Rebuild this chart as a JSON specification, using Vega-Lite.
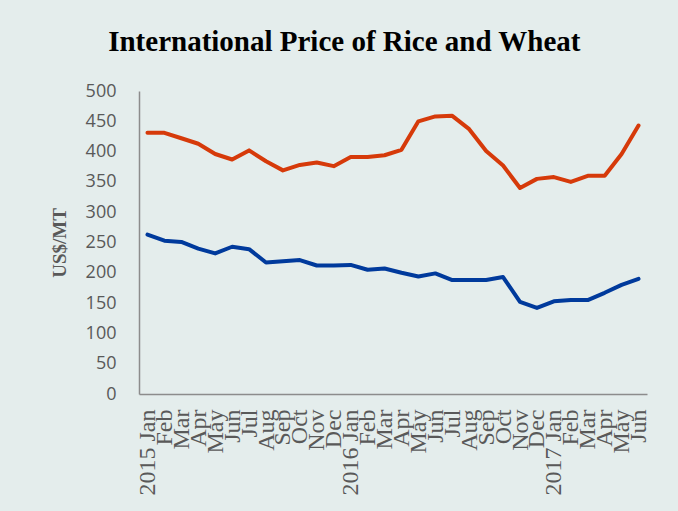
{
  "$schema": "https://vega.github.io/schema/vega-lite/v6.json",
  "width": 508,
  "height": 303,
  "autosize": {"type": "none"},
  "padding": {"left": 139, "top": 91, "right": 31, "bottom": 117},
  "background": "#E4EDEC",
  "title": {
    "text": "International Price of Rice and Wheat",
    "font": "Liberation Serif",
    "fontSize": 29,
    "fontWeight": "bold",
    "color": "#000000",
    "frame": "bounds",
    "anchor": "middle",
    "offset": 25,
    "dx": -6
  },
  "config": {"view": {"stroke": null}},
  "data": {
    "values": [
      {"month": "2015 Jan", "commodity": "Rice", "price": 431},
      {"month": "2015 Feb", "commodity": "Rice", "price": 431},
      {"month": "2015 Mar", "commodity": "Rice", "price": 422},
      {"month": "2015 Apr", "commodity": "Rice", "price": 413},
      {"month": "2015 May", "commodity": "Rice", "price": 396},
      {"month": "2015 Jun", "commodity": "Rice", "price": 387},
      {"month": "2015 Jul", "commodity": "Rice", "price": 402},
      {"month": "2015 Aug", "commodity": "Rice", "price": 384},
      {"month": "2015 Sep", "commodity": "Rice", "price": 369},
      {"month": "2015 Oct", "commodity": "Rice", "price": 378},
      {"month": "2015 Nov", "commodity": "Rice", "price": 382},
      {"month": "2015 Dec", "commodity": "Rice", "price": 376},
      {"month": "2016 Jan", "commodity": "Rice", "price": 391},
      {"month": "2016 Feb", "commodity": "Rice", "price": 391},
      {"month": "2016 Mar", "commodity": "Rice", "price": 394},
      {"month": "2016 Apr", "commodity": "Rice", "price": 403},
      {"month": "2016 May", "commodity": "Rice", "price": 450},
      {"month": "2016 Jun", "commodity": "Rice", "price": 458},
      {"month": "2016 Jul", "commodity": "Rice", "price": 459},
      {"month": "2016 Aug", "commodity": "Rice", "price": 437},
      {"month": "2016 Sep", "commodity": "Rice", "price": 401},
      {"month": "2016 Oct", "commodity": "Rice", "price": 377},
      {"month": "2016 Nov", "commodity": "Rice", "price": 340},
      {"month": "2016 Dec", "commodity": "Rice", "price": 355},
      {"month": "2017 Jan", "commodity": "Rice", "price": 358},
      {"month": "2017 Feb", "commodity": "Rice", "price": 350},
      {"month": "2017 Mar", "commodity": "Rice", "price": 360},
      {"month": "2017 Apr", "commodity": "Rice", "price": 360},
      {"month": "2017 May", "commodity": "Rice", "price": 396},
      {"month": "2017 Jun", "commodity": "Rice", "price": 443},
      {"month": "2015 Jan", "commodity": "Wheat", "price": 263},
      {"month": "2015 Feb", "commodity": "Wheat", "price": 253},
      {"month": "2015 Mar", "commodity": "Wheat", "price": 251},
      {"month": "2015 Apr", "commodity": "Wheat", "price": 240},
      {"month": "2015 May", "commodity": "Wheat", "price": 232},
      {"month": "2015 Jun", "commodity": "Wheat", "price": 243},
      {"month": "2015 Jul", "commodity": "Wheat", "price": 239},
      {"month": "2015 Aug", "commodity": "Wheat", "price": 217},
      {"month": "2015 Sep", "commodity": "Wheat", "price": 219},
      {"month": "2015 Oct", "commodity": "Wheat", "price": 221},
      {"month": "2015 Nov", "commodity": "Wheat", "price": 212},
      {"month": "2015 Dec", "commodity": "Wheat", "price": 212},
      {"month": "2016 Jan", "commodity": "Wheat", "price": 213},
      {"month": "2016 Feb", "commodity": "Wheat", "price": 205},
      {"month": "2016 Mar", "commodity": "Wheat", "price": 207},
      {"month": "2016 Apr", "commodity": "Wheat", "price": 200},
      {"month": "2016 May", "commodity": "Wheat", "price": 194},
      {"month": "2016 Jun", "commodity": "Wheat", "price": 199},
      {"month": "2016 Jul", "commodity": "Wheat", "price": 188},
      {"month": "2016 Aug", "commodity": "Wheat", "price": 188},
      {"month": "2016 Sep", "commodity": "Wheat", "price": 188},
      {"month": "2016 Oct", "commodity": "Wheat", "price": 193},
      {"month": "2016 Nov", "commodity": "Wheat", "price": 152},
      {"month": "2016 Dec", "commodity": "Wheat", "price": 142},
      {"month": "2017 Jan", "commodity": "Wheat", "price": 153},
      {"month": "2017 Feb", "commodity": "Wheat", "price": 155},
      {"month": "2017 Mar", "commodity": "Wheat", "price": 155},
      {"month": "2017 Apr", "commodity": "Wheat", "price": 167},
      {"month": "2017 May", "commodity": "Wheat", "price": 180},
      {"month": "2017 Jun", "commodity": "Wheat", "price": 190}
    ]
  },
  "mark": {"type": "line", "strokeWidth": 4, "strokeJoin": "round", "strokeCap": "round"},
  "encoding": {
    "x": {
      "field": "month",
      "type": "ordinal",
      "sort": null,
      "scale": {"type": "point", "padding": 0.5},
      "axis": {
        "title": null,
        "labelAngle": 270,
        "labelAlign": "right",
        "labelBaseline": "middle",
        "labelFont": "Liberation Serif",
        "labelFontSize": 24,
        "labelColor": "#595959",
        "labelOverlap": false,
        "labelPadding": 15,
        "ticks": false,
        "domainColor": "#8C8C8C",
        "domainWidth": 1.5,
        "labelExpr": "indexof(datum.label, 'Jan') >= 0 ? datum.label : substring(datum.label, 5)"
      }
    },
    "y": {
      "field": "price",
      "type": "quantitative",
      "scale": {"domain": [0, 500], "nice": false},
      "axis": {
        "values": [0, 50, 100, 150, 200, 250, 300, 350, 400, 450, 500],
        "grid": false,
        "ticks": false,
        "labelFont": "Open Sans",
        "labelFontSize": 18,
        "labelColor": "#595959",
        "labelPadding": 23,
        "domainColor": "#8C8C8C",
        "domainWidth": 1.5,
        "title": "US$/MT",
        "titleFont": "Liberation Serif",
        "titleFontSize": 19,
        "titleFontWeight": "bold",
        "titleColor": "#595959",
        "titlePadding": 16
      }
    },
    "color": {
      "field": "commodity",
      "type": "nominal",
      "scale": {"domain": ["Rice", "Wheat"], "range": ["#D63A0A", "#003A9C"]},
      "legend": null
    }
  }
}
